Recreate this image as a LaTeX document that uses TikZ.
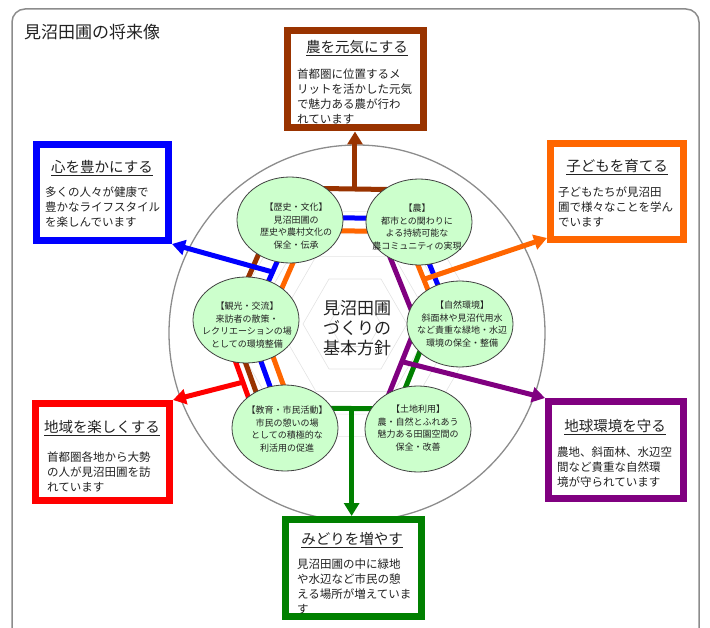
\documentclass[tikz,border=0pt]{standalone}
\usepackage{fontspec}
\setmainfont{Noto Sans CJK JP}
\usetikzlibrary{calc,arrows.meta,shapes.geometric}
\definecolor{cBrown}{HTML}{993300}
\definecolor{cBlue}{HTML}{0000FF}
\definecolor{cOrange}{HTML}{FF6600}
\definecolor{cRed}{HTML}{FF0000}
\definecolor{cPurple}{HTML}{800080}
\definecolor{cGreen}{HTML}{008000}
\definecolor{cFill}{HTML}{CCFFCC}
\definecolor{cFrame}{HTML}{8C8C8C}
\definecolor{cText}{HTML}{222222}
\pgfdeclarelayer{back}
\pgfsetlayers{back,main}
\newcommand\bridgeline[4]{\draw[link,#1] ($(#2)!#4!90:(#3)$) -- ($(#3)!#4!-90:(#2)$);}
\begin{document}
\begin{tikzpicture}[x=1pt,y=-1pt,
  policy/.style={ellipse, draw=black!75, line width=0.8pt, fill=cFill, minimum width=106pt, minimum height=86pt, inner sep=0pt},
  ptext/.style={align=center, font=\fontsize{9}{12.6}\selectfont, inner sep=0pt, text=cText},
  goalbox/.style={draw=#1, line width=7pt, fill=white, inner sep=0pt},
  gtitle/.style={font=\fontsize{14.5}{16}\selectfont, inner sep=0pt, text=cText},
  gbody/.style={anchor=north west, align=left, font=\fontsize{11.5}{15}\selectfont, inner sep=0pt, text=cText},
  link/.style={line width=5pt},
  arrowlink/.style={line width=5pt, -{Triangle[length=13pt,width=15pt]}}
]
\useasboundingbox (0,0) rectangle (710,628);

% policy ellipses
\node[policy] (rek) at (290,220) {};
\node[policy] (nou) at (419,222) {};
\node[policy] (kan) at (246,320) {};
\node[policy] (shi) at (460,324) {};
\node[policy] (kyo) at (285,428) {};
\node[policy] (tochi) at (418,429) {};

\node[ptext] (rekT) at (296,226) {【歴史・文化】\\見沼田圃の\\歴史や農村文化の\\保全・伝承};
\node[ptext] (nouT) at (417,227) {【農】\\都市との関わりに\\よる持続可能な\\農コミュニティの実現};
\node[ptext] (kanT) at (247,325) {【観光・交流】\\来訪者の散策・\\レクリエーションの場\\としての環境整備};
\node[ptext] (shiT) at (462,324) {【自然環境】\\斜面林や見沼代用水\\など貴重な緑地・水辺\\環境の保全・整備};
\node[ptext] (kyoT) at (287,429) {【教育・市民活動】\\市民の憩いの場\\としての積極的な\\利活用の促進};
\node[ptext] (tochiT) at (418,428) {【土地利用】\\農・自然とふれあう\\魅力ある田園空間の\\保全・改善};

\node[align=center, font=\fontsize{17}{20}\selectfont, inner sep=0pt, text=cText] (core) at (357,328) {見沼田圃\\づくりの\\基本方針};

% goal boxes
\node[goalbox=cBrown, minimum width=136pt, minimum height=97pt] (gNou) at (355,79.5) {};
\node[goalbox=cBlue, minimum width=132pt, minimum height=96pt] (gKoko) at (102.5,192.5) {};
\node[goalbox=cOrange, minimum width=133pt, minimum height=96pt] (gKodo) at (617,191.5) {};
\node[goalbox=cRed, minimum width=134pt, minimum height=97pt] (gChi) at (102.5,452) {};
\node[goalbox=cPurple, minimum width=135pt, minimum height=97pt] (gChik) at (616,450) {};
\node[goalbox=cGreen, minimum width=136pt, minimum height=97pt] (gMid) at (353.5,568) {};

\node[gtitle] (tNou) at (357,48) {\underline{農を元気にする}};
\node[gtitle] (tKoko) at (102,168) {\underline{心を豊かにする}};
\node[gtitle] (tKodo) at (617,167) {\underline{子どもを育てる}};
\node[gtitle] (tChi) at (102,428) {\underline{地域を楽しくする}};
\node[gtitle] (tChik) at (615,427) {\underline{地球環境を守る}};
\node[gtitle] (tMid) at (352,540) {\underline{みどりを増やす}};

\node[gbody] (bNou) at (297,69) {首都圏に位置するメ\\リットを活かした元気\\で魅力ある農が行わ\\れています};
\node[gbody] (bKoko) at (45,187) {多くの人々が健康で\\豊かなライフスタイル\\を楽しんでいます};
\node[gbody] (bKodo) at (558,187) {子どもたちが見沼田\\圃で様々なことを学ん\\でいます};
\node[gbody] (bChi) at (47,452) {首都圏各地から大勢\\の人が見沼田圃を訪\\れています};
\node[gbody] (bChik) at (557,447) {農地、斜面林、水辺空\\間など貴重な自然環\\境が守られています};
\node[gbody] (bMid) at (297,559) {見沼田圃の中に緑地\\や水辺など市民の憩\\える場所が増えていま\\す};

\node[anchor=west, font=\fontsize{17}{17}\selectfont, inner sep=0pt, text=cText] (title) at (24,32) {見沼田圃の将来像};

\begin{pgfonlayer}{back}
  \draw[cFrame, line width=1.5pt, rounded corners=13pt] (12,9) rectangle (699,660);
  \coordinate (hub) at (355,324);
  \draw[black!45, line width=1.3pt] (357,333) circle[radius=188];
  \foreach \r in {26,52,78,104,130}
    \draw[gray!22, line width=0.6pt] ($(hub)+(0:\r)$) \foreach \a in {60,120,...,300} {-- ($(hub)+(\a:\r)$)} -- cycle;
  % bridges between adjacent policies
  \bridgeline{cBrown}{rek}{nou}{32pt}
  \bridgeline{cBlue}{rek}{nou}{3pt}
  \bridgeline{cOrange}{rek}{nou}{-10pt}
  \bridgeline{cBrown}{kan}{rek}{15pt}
  \bridgeline{cBlue}{kan}{rek}{-5pt}
  \bridgeline{cOrange}{kan}{rek}{-20pt}
  \bridgeline{cRed}{kyo}{kan}{24pt}
  \bridgeline{cBrown}{kyo}{kan}{15pt}
  \bridgeline{cBlue}{kyo}{kan}{0pt}
  \bridgeline{cOrange}{kyo}{kan}{-13pt}
  \bridgeline{cPurple}{nou}{shi}{-40pt}
  \bridgeline{cOrange}{nou}{shi}{-17pt}
  \bridgeline{cBlue}{nou}{shi}{-6pt}
  \bridgeline{cGreen}{shi}{tochi}{-27pt}
  \bridgeline{cPurple}{shi}{tochi}{-40pt}
  \bridgeline{cGreen}{kyo}{tochi}{20pt}
  % junctions
  \coordinate (brT) at ($(rek)!.5!(nou)!32pt!90:(nou)$);
  \coordinate (blT) at ($(kan)!.5!(rek)!-5pt!90:(rek)$);
  \coordinate (orT) at ($(nou)!.5!(shi)!-17pt!90:(shi)$);
  \coordinate (rdT) at ($(kyo)!.5!(kan)!24pt!90:(kan)$);
  \coordinate (puT) at ($(shi)!.5!(tochi)!-40pt!90:(tochi)$);
  \coordinate (grT) at ($(kyo)!.5!(tochi)!20pt!90:(tochi)$);
  % arrows to goals
  \draw[arrowlink, cBrown] (brT) -- (brT |- gNou.south);
  \draw[arrowlink, cBlue] (blT) -- (gKoko.south east);
  \draw[arrowlink, cOrange] (orT) -- ($(gKodo.south west)+(0,-5)$);
  \draw[arrowlink, cRed] (rdT) -- (gChi.north east);
  \draw[arrowlink, cPurple] (puT) -- (gChik.north west);
  \draw[arrowlink, cGreen] (grT) -- (grT |- gMid.north);
\end{pgfonlayer}
\end{tikzpicture}
\end{document}
